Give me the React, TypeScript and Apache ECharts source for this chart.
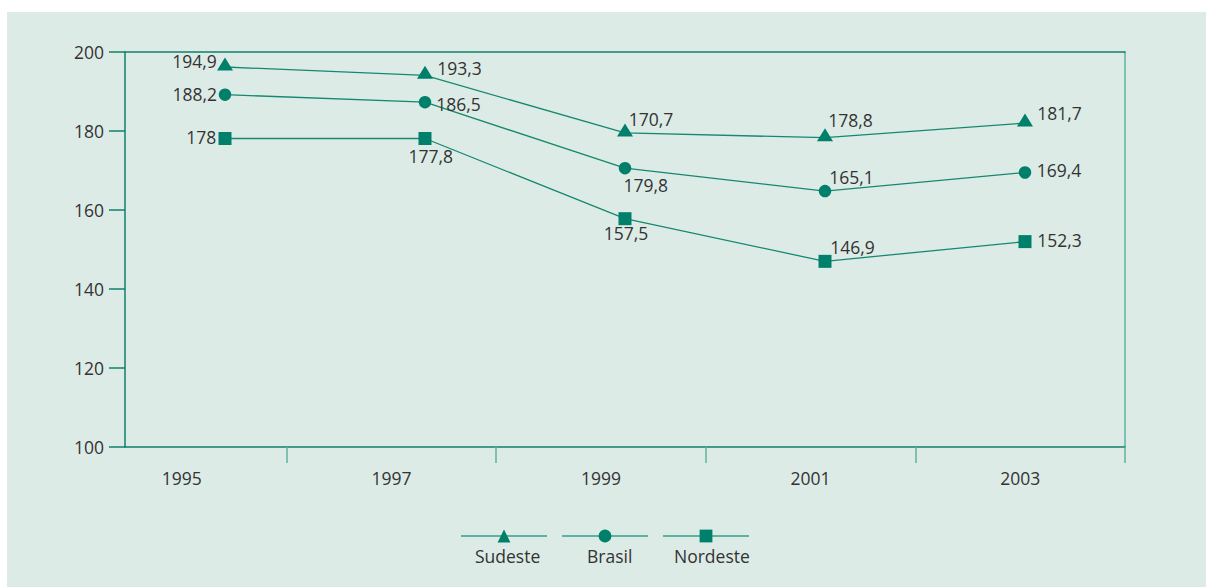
import React, { useEffect, useRef } from "react";
import * as echarts from "echarts";

const years = ["1995", "1997", "1999", "2001", "2003"];
const seriesNames = ["Sudeste", "Brasil", "Nordeste"];

// Plotted values
const sudeste = [196.2, 194.1, 179.5, 178.3, 182.0];
const brasil = [189.2, 187.3, 170.6, 164.8, 169.5];
const nordeste = [178.1, 178.1, 157.8, 147.0, 152.0];

// Label texts as printed in the chart
const sudesteLabels = ["194,9", "193,3", "170,7", "178,8", "181,7"];
const brasilLabels = ["188,2", "186,5", "179,8", "165,1", "169,4"];
const nordesteLabels = ["178", "177,8", "157,5", "146,9", "152,3"];

const yTicks = { min: 100, max: 200, interval: 20 };

// Label placement (style only): offset of label centre from marker centre
const sudesteOffsets = [[-30.5, -3], [34.5, -4], [26, -11], [25.5, -15], [34.5, -7.3]];
const brasilOffsets = [[-30.3, -0.3], [33.5, 2], [20.8, 17.3], [26.5, -13.8], [34, -2.9]];
const nordesteOffsets = [[-23.7, -1.6], [5.8, 17.7], [1, 14.8], [27.5, -14.3], [34.5, -2]];

const FONT = "Open Sans";
const FS = 17.5;
const TEXT = "#333333";
const DARK = "#12806a";
const LIGHT = "#5db39f";
const MARK = "#00806a";
const LINE = "#16886f";

export default function App() {
  const ref = useRef<HTMLDivElement>(null);
  useEffect(() => {
    if (!ref.current) return;
    const chart = echarts.init(ref.current, undefined, { renderer: "svg" });
    const mk = (
      name: string,
      values: number[],
      labels: string[],
      offsets: number[][],
      symbol: string,
      size: any,
      symOffset: number[]
    ) => ({
      name,
      type: "line",
      xAxisIndex: 0,
      yAxisIndex: 0,
      symbol,
      symbolSize: size,
      symbolOffset: symOffset,
      showSymbol: true,
      itemStyle: { color: MARK },
      lineStyle: { color: LINE, width: 1.3 },
      label: {
        show: true,
        position: "inside",
        fontFamily: FONT,
        fontSize: FS,
        color: TEXT,
        formatter: (p: any) => labels[p.dataIndex],
      },
      emphasis: { disabled: true },
      data: values.map((v, i) => ({ value: v, label: { offset: offsets[i] } })),
      z: 3,
    });
    chart.setOption({
      animation: false,
      backgroundColor: "#ddebe7",
      textStyle: { fontFamily: FONT },
      grid: [
        { left: 118, right: 81, top: 40, bottom: 140 },
        { left: 70, right: 81, top: 40, bottom: 140 },
      ],
      xAxis: [
        {
          type: "category",
          gridIndex: 0,
          data: years,
          boundaryGap: true,
          position: "bottom",
          axisLine: { show: true, lineStyle: { color: DARK, width: 1.5 } },
          axisTick: { show: false },
          axisLabel: { show: false },
          splitLine: { show: false },
        },
        {
          type: "category",
          gridIndex: 1,
          data: years,
          boundaryGap: true,
          position: "bottom",
          axisLine: { show: false },
          axisTick: {
            show: true,
            length: 16,
            interval: (i: number) => i > 0,
            lineStyle: { color: LIGHT, width: 1.5 },
          },
          axisLabel: { show: true, fontSize: FS, color: TEXT, margin: 22, fontFamily: FONT },
          splitLine: { show: false },
        },
        {
          type: "category",
          gridIndex: 0,
          data: years,
          position: "top",
          axisLine: { show: true, lineStyle: { color: DARK, width: 1.5 } },
          axisTick: { show: false },
          axisLabel: { show: false },
        },
      ],
      yAxis: [
        {
          type: "value",
          gridIndex: 0,
          min: yTicks.min,
          max: yTicks.max,
          interval: yTicks.interval,
          axisLine: { show: true, lineStyle: { color: DARK, width: 1.5 } },
          axisTick: { show: true, length: 16, lineStyle: { color: DARK, width: 1.5 } },
          axisLabel: { fontSize: FS, color: TEXT, margin: 21, fontFamily: FONT },
          splitLine: { show: false },
        },
        {
          type: "value",
          gridIndex: 0,
          position: "right",
          min: yTicks.min,
          max: yTicks.max,
          interval: yTicks.interval,
          axisLine: { show: true, lineStyle: { color: LIGHT, width: 1.5 } },
          axisTick: { show: false },
          axisLabel: { show: false },
          splitLine: { show: false },
        },
        { type: "value", gridIndex: 1, show: false, min: 0, max: 1 },
      ],
      legend: {
        left: 448,
        top: 511,
        itemWidth: 86,
        itemHeight: 16,
        itemGap: 13,
        selectedMode: false,
        formatter: () => "",
        lineStyle: { color: LIGHT, width: 2 },
        data: seriesNames,
      },
      graphic: seriesNames.map((n, i) => ({
        type: "text",
        left: [468, 580, 667][i],
        top: 535,
        style: { text: n, fontFamily: FONT, fontSize: FS, fill: TEXT },
        silent: true,
      })),
      series: [
        mk(seriesNames[0], sudeste, sudesteLabels, sudesteOffsets, "triangle", [16, 13], [0, -3]),
        mk(seriesNames[1], brasil, brasilLabels, brasilOffsets, "circle", 12.5, [0, 0]),
        mk(seriesNames[2], nordeste, nordesteLabels, nordesteOffsets, "rect", 13, [0, 0]),
      ],
    });
    return () => chart.dispose();
  }, []);
  return (
    <div style={{ position: "fixed", left: 0, top: 0, width: 1206, height: 587, background: "#ffffff" }}>
      <div ref={ref} style={{ position: "absolute", left: 7, top: 12, width: 1199, height: 575 }} />
    </div>
  );
}
